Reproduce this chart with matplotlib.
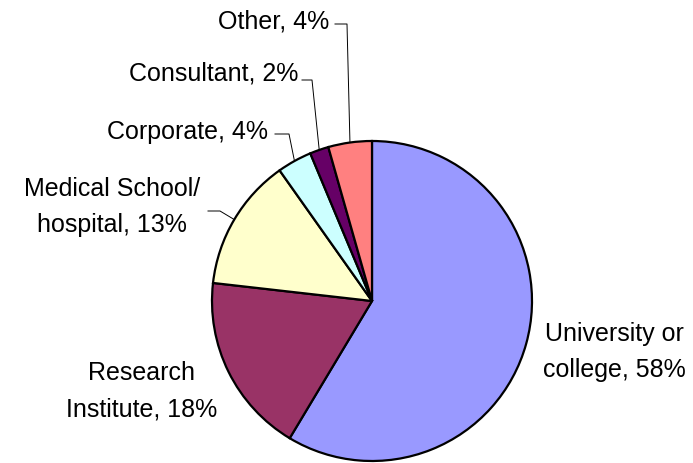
import numpy as np
import matplotlib
matplotlib.use("Agg")
import matplotlib.pyplot as plt

labels = ["University or\ncollege, 58%", "Research\nInstitute, 18%", "Medical School/\nhospital, 13%",
          "Corporate, 4%", "Consultant, 2%", "Other, 4%"]
values = [58.6, 18.2, 13.4, 3.5, 1.9, 4.4]
colors = ["#9999FF", "#993366", "#FFFFCC", "#CCFFFF", "#660066", "#FF8080"]

W, H = 693, 463
plt.rcParams['font.family'] = ['Liberation Sans', 'DejaVu Sans']

def py(y):
    # flip pixel y (top-down) into data y
    return H - y

fig = plt.figure(figsize=(W / 100, H / 100), dpi=100)
ax = fig.add_axes([0, 0, 1, 1])

cx, cy, r = 372, py(301), 160
wedges, _ = ax.pie(values, colors=colors, startangle=90, counterclock=False,
                   center=(cx, cy), radius=r,
                   wedgeprops=dict(edgecolor="black", linewidth=1.6))
ax.set_xlim(0, W)
ax.set_ylim(0, H)
ax.set_aspect("equal")
ax.axis("off")

fs = 18

# labels with leader lines: (wedge index, elbow x, elbow y, text end x)
leaders = [
    (5, 347, 24, 335),
    (4, 312, 80, 302),
    (3, 289, 134, 275),
    (2, 220, 211, 208),
]
for i, ex, ey, tx in leaders:
    w = wedges[i]
    mid = np.radians((w.theta1 + w.theta2) / 2)
    px, pyy = cx + r * np.cos(mid), cy + r * np.sin(mid)
    ax.plot([px, ex, tx], [pyy, py(ey), py(ey)], color="black", lw=0.7)

ax.text(329, py(22), labels[5], fontsize=fs, ha="right", va="center")
ax.text(298, py(74), labels[4], fontsize=fs, ha="right", va="center")
ax.text(268, py(132), labels[3], fontsize=fs, ha="right", va="center")
ax.text(112, py(207), labels[2], fontsize=fs, ha="center", va="center", linespacing=1.64)
ax.text(142, py(391), labels[1], fontsize=fs, ha="center", va="center", linespacing=1.64)
ax.text(614, py(352), labels[0], fontsize=fs, ha="center", va="center", linespacing=1.64)

fig.savefig("out.png", dpi=100, facecolor="white")
